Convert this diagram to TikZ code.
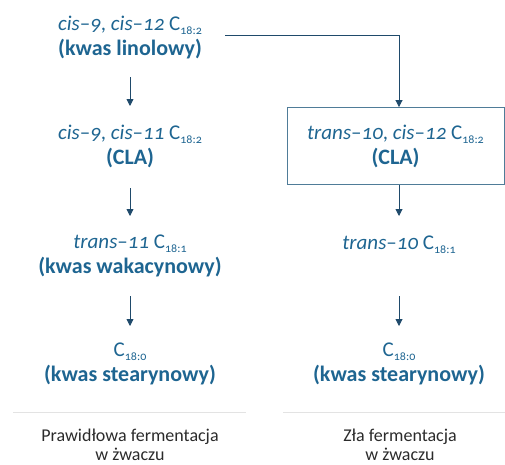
\documentclass[tikz,border=0pt]{standalone}
\usepackage{fontspec}
\setmainfont{Carlito}[Numbers=OldStyle]
\usetikzlibrary{arrows.meta}
\definecolor{txtblue}{HTML}{1E6591}
\definecolor{arrowc}{HTML}{1F4A6B}
\definecolor{boxc}{HTML}{4F7C98}
\definecolor{sepc}{HTML}{E3E3E3}
\definecolor{capc}{HTML}{2B2B2B}
\newcommand{\sub}[1]{\raisebox{-4pt}{\upshape\fontsize{12}{12}\selectfont #1}}
\newcommand{\itl}[1]{{\fontsize{21}{21}\selectfont #1}}
\tikzset{
  lbl/.style={text=txtblue, align=center, font=\fontsize{22}{25}\selectfont, inner sep=0pt},
  captxt/.style={text=capc, align=center, font=\fontsize{18}{19.5}\selectfont, inner sep=0pt},
  arr/.style={draw=arrowc, line width=0.9pt, -{Triangle[length=7pt,width=7pt]}},
  sepline/.style={draw=sepc, line width=0.8pt}
}
\begin{document}
\begin{tikzpicture}[x=1pt,y=-1pt]
\useasboundingbox (0,0) rectangle (505,464);
% left column
\node[lbl] (a1) at (130,38) {\itl{\textit{cis}\textendash\textit{9}, \textit{cis}\textendash\textit{12} C\sub{18:2}}\\\textbf{(kwas linolowy)}};
\node[lbl] (a2) at (130,146) {\itl{\textit{cis}\textendash\textit{9}, \textit{cis}\textendash\textit{11} C\sub{18:2}}\\\textbf{(CLA)}};
\node[lbl] (a3) at (130,256) {\itl{\textit{trans}\textendash\textit{11} C\sub{18:1}}\\\textbf{(kwas wakacynowy)}};
\node[lbl] (a4) at (130,364) {\itl{C\sub{18:0}}\\\textbf{(kwas stearynowy)}};
\coordinate (l1s) at (130,77); \coordinate (l1e) at (130,106);
\coordinate (l2s) at (130,188); \coordinate (l2e) at (130,216);
\coordinate (l3s) at (130,296); \coordinate (l3e) at (130,326);
\draw[arr] (l1s) -- (l1e);
\draw[arr] (l2s) -- (l2e);
\draw[arr] (l3s) -- (l3e);
% right column
\node[lbl, draw=boxc, line width=0.9pt, minimum width=217pt, minimum height=77pt] (b1) at (395.5,146) {\itl{\textit{trans}\textendash\textit{10}, \textit{cis}\textendash\textit{12} C\sub{18:2}}\\\textbf{(CLA)}};
\node[lbl] (b2) at (399,245) {\itl{\textit{trans}\textendash\textit{10} C\sub{18:1}}};
\node[lbl] (b3) at (399,364) {\itl{C\sub{18:0}}\\\textbf{(kwas stearynowy)}};
\coordinate (r0) at (225,35);
\coordinate (rc) at (399,35);
\coordinate (r1s) at (399,185); \coordinate (r1e) at (399,216);
\coordinate (r2s) at (399,296); \coordinate (r2e) at (399,326);
\draw[arr] (r0) -- (rc) -- (rc|-b1.north);
\draw[arr] (r1s) -- (r1e);
\draw[arr] (r2s) -- (r2e);
% separators
\coordinate (s1a) at (13,412); \coordinate (s1b) at (246,412);
\coordinate (s2a) at (283,412); \coordinate (s2b) at (505,412);
\draw[sepline] (s1a) -- (s1b);
\draw[sepline] (s2a) -- (s2b);
\node[captxt] (c1) at (130,445) {Prawidłowa fermentacja\\w żwaczu};
\node[captxt] (c2) at (400,445) {Zła fermentacja\\w żwaczu};
\end{tikzpicture}
\end{document}
